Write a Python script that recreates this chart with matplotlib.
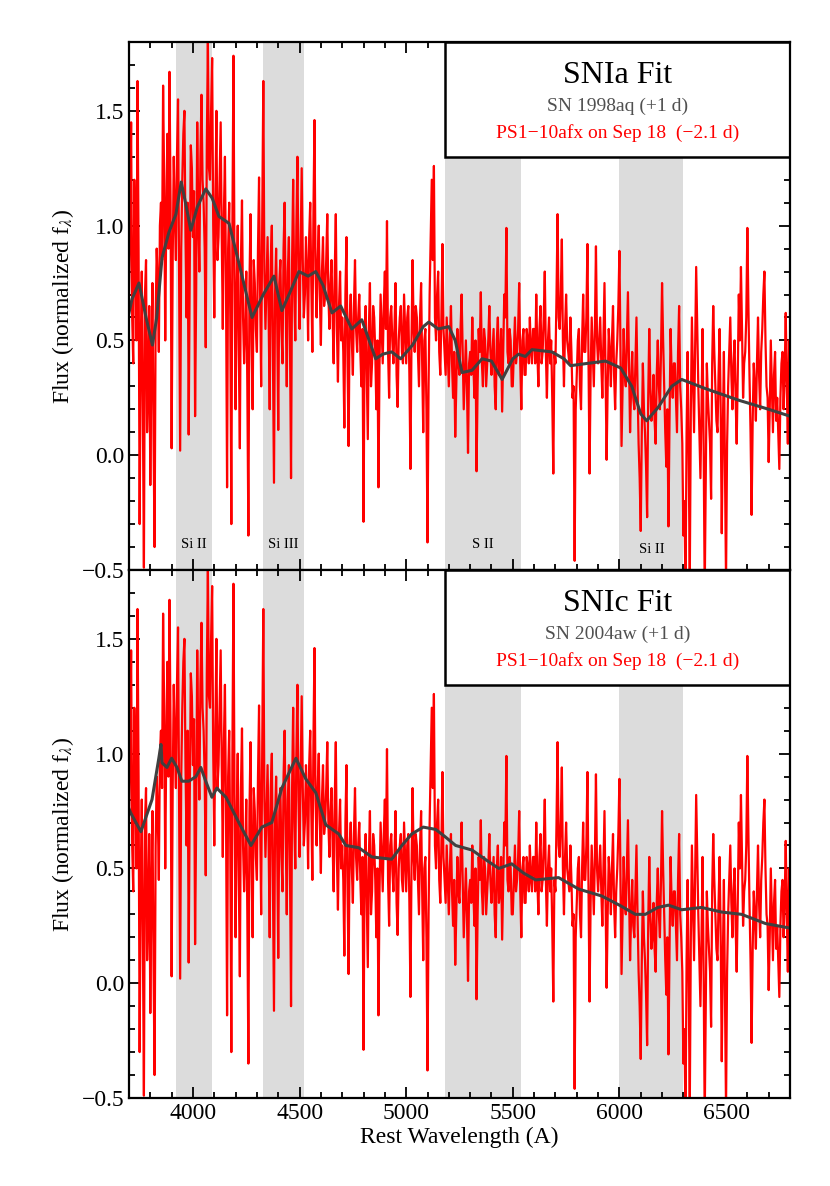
import matplotlib
matplotlib.use('Agg')
import matplotlib.pyplot as plt
from matplotlib.patches import Rectangle
from matplotlib.ticker import MultipleLocator
import numpy as np

plt.rcParams['font.family'] = ['Liberation Serif', 'DejaVu Serif']
plt.rcParams['mathtext.fontset'] = 'stix'

# PS1-10afx spectrum: values at 3700, 3710, ... 6800 A
flux_ps1 = [
    0.70, 1.45, 0.40, 0.95, 1.63, -0.30, 0.80, -0.49, 0.85, 0.30,
    -0.13, 0.75, -0.40, 0.90, 0.45, 1.10, 1.61, 0.50, 1.40, 1.67,
    0.03, 1.30, 0.85, 1.55, 0.02, 1.20, 1.50, 0.60, 0.09, 1.35,
    0.95, 0.17, 1.45, 0.80, 1.57, 1.10, 0.47, 1.80, 1.20, 1.73,
    0.60, 1.50, 0.95, 1.45, 0.55, 1.30, -0.14, 1.10, -0.30, 1.74,
    0.20, 1.00, 0.03, 1.11, 0.40, 0.80, -0.35, 1.05, 0.20, 0.75,
    0.45, 1.21, 0.30, 1.63, 0.55, 0.95, 0.20, 1.00, -0.12, 0.90,
    0.11, 0.85, 0.40, 1.10, 0.30, 0.95, -0.10, 1.20, 0.50, 1.30,
    0.55, 1.25, 0.60, 0.95, 0.50, 1.10, 0.45, 1.46, 0.60, 1.00,
    0.48, 0.95, 0.70, 1.05, 0.55, 0.85, 0.40, 1.05, 0.32, 0.80,
    0.60, 0.12, 0.95, 0.04, 0.70, 0.35, 0.85, 0.45, 0.70, 0.30,
    -0.29, 0.65, 0.07, 0.75, 0.40, 0.60, 0.20, -0.14, 0.70, 0.40,
    0.80, 1.02, 0.25, 0.65, 0.40, 0.75, 0.21, 0.60, 0.45, 0.70,
    0.40, 0.65, -0.06, 0.85, 0.45, 0.60, 0.30, 0.75, 0.10, 0.55,
    -0.38, 0.70, 1.20, 1.26, 0.50, 0.80, 0.35, 0.92, 0.45, 0.60,
    0.30, 0.65, 0.25, 0.08, 0.55, 0.35, 0.70, 0.20, 0.50, 0.01,
    0.45, 0.60, 0.25, -0.07, 0.55, 0.71, 0.30, 0.50, 0.40, 0.65,
    0.35, 0.55, 0.20, 0.60, 0.40, 0.19, 0.70, 0.99, 0.40, 0.50,
    0.30, 0.60, 0.45, 0.75, 0.20, 0.55, 0.35, 0.50, 0.60, 0.40,
    0.55, 0.70, 0.30, 0.65, 0.45, 0.80, 0.25, 0.60, 0.50, -0.08,
    0.40, 1.05, 0.55, 0.94, 0.30, 0.70, 0.45, 0.60, 0.25, -0.46,
    0.35, 0.55, 0.20, 0.70, 0.45, 0.92, -0.08, 0.60, 0.30, 0.91,
    0.40, 0.60, 0.25, 0.75, -0.02, 0.55, 0.30, 0.65, 0.20, 0.50,
    0.89, 0.04, 0.55, 0.30, 0.71, 0.10, 0.45, 0.20, 0.60, 0.05,
    -0.33, 0.40, 0.10, -0.27, 0.55, 0.15, 0.35, 0.05, 0.50, 0.20,
    0.75, 0.30, -0.05, -0.31, 0.55, 0.25, 0.40, 0.10, 0.65, 0.20,
    -0.35, -0.60, 0.45, -0.55, 0.60, 0.10, 0.82, 0.30, -0.10, 0.55,
    -0.60, 0.40, 0.15, -0.19, 0.65, 0.30, 0.10, 0.55, -0.34, 0.45,
    -0.55, 0.30, 0.60, 0.20, 0.50, 0.05, 0.70, 0.82, 0.25, 0.45,
    0.99, 0.35, -0.26, 0.40, 0.15, 0.60, 0.20, 0.55, 0.80, 0.30,
    -0.03, 0.50, 0.10, 0.45, 0.25, -0.06, 0.40, 0.20, 0.62, 0.05,
    0.30,
]
# values at 3705, 3715, ... 6795 A
flux_ps1_mid = [
    1.00, 0.60, 1.20, 0.50, 0.90, 0.45, 0.20, 0.70, 0.10, 0.65,
    0.40, 0.10, 0.60, 0.75, 1.00, 0.85, 1.20, 1.05, 0.90, 1.10,
    0.85, 1.05, 1.30, 0.75, 0.90, 1.40, 0.95, 1.10, 0.80, 1.25,
    1.15, 0.70, 1.05, 1.30, 1.20, 0.90, 1.35, 1.25, 1.50, 1.00,
    1.10, 0.85, 1.20, 0.95, 1.05, 0.75, 0.90, 0.60, 1.00, 0.80,
    0.70, 0.45, 0.85, 0.60, 0.55, 0.30, 0.75, 0.50, 0.85, 0.55,
    0.90, 0.70, 1.05, 0.80, 0.75, 0.60, 0.85, 0.45, 0.70, 0.60,
    0.75, 0.55, 0.90, 0.65, 0.80, 0.50, 0.85, 0.70, 1.00, 0.80,
    0.90, 0.85, 0.70, 0.80, 0.95, 0.75, 1.05, 0.80, 0.85, 0.70,
    0.80, 0.65, 0.85, 0.70, 0.75, 0.60, 0.80, 0.55, 0.65, 0.50,
    0.45, 0.70, 0.40, 0.60, 0.50, 0.65, 0.55, 0.60, 0.45, 0.55,
    0.50, 0.35, 0.55, 0.30, 0.65, 0.45, 0.50, 0.40, 0.55, 0.65,
    0.55, 0.45, 0.60, 0.50, 0.55, 0.35, 0.50, 0.65, 0.40, 0.55,
    0.60, 0.35, 0.50, 0.55, 0.65, 0.45, 0.60, 0.40, 0.50, 0.20,
    0.30, 0.95, 0.85, 0.60, 0.70, 0.45, 0.60, 0.55, 0.35, 0.45,
    0.50, 0.40, 0.45, 0.30, 0.40, 0.55, 0.45, 0.35, 0.30, 0.40,
    0.35, 0.40, 0.50, 0.30, 0.45, 0.40, 0.55, 0.30, 0.50, 0.45,
    0.45, 0.30, 0.50, 0.35, 0.55, 0.45, 0.60, 0.45, 0.55, 0.30,
    0.45, 0.40, 0.55, 0.40, 0.50, 0.35, 0.55, 0.40, 0.45, 0.55,
    0.40, 0.45, 0.55, 0.40, 0.60, 0.45, 0.50, 0.40, 0.25, 0.45,
    0.70, 0.60, 0.70, 0.50, 0.55, 0.50, 0.40, 0.45, 0.30, 0.20,
    0.50, 0.30, 0.50, 0.45, 0.60, 0.40, 0.35, 0.45, 0.55, 0.50,
    0.50, 0.40, 0.50, 0.35, 0.30, 0.45, 0.50, 0.35, 0.40, 0.65,
    0.45, 0.30, 0.35, 0.50, 0.40, 0.30, 0.25, 0.40, 0.30, -0.10,
    0.10, 0.20, -0.05, 0.25, 0.30, 0.20, 0.15, 0.35, 0.30, 0.45,
    0.50, 0.10, 0.20, 0.15, 0.35, 0.40, 0.25, 0.45, 0.30, 0.05,
    -0.20, 0.10, 0.00, 0.20, 0.35, 0.45, 0.55, 0.10, 0.20, 0.05,
    -0.10, 0.25, 0.05, 0.40, 0.45, 0.15, 0.35, 0.20, 0.10, -0.05,
    0.05, 0.45, 0.35, 0.40, 0.25, 0.35, 0.50, 0.55, 0.40, 0.60,
    0.65, 0.10, 0.15, 0.30, 0.40, 0.35, 0.45, 0.70, 0.50, 0.25,
    0.20, 0.30, 0.35, 0.15, 0.10, 0.25, 0.45, 0.35, 0.30, 0.50,
]

# SN 1998aq template (Ia fit)
wave_ia = [3700, 3714, 3747, 3780, 3810, 3830, 3855, 3887, 3920, 3945,
           3965, 3990, 4020, 4060, 4090, 4122, 4169, 4220, 4277, 4330,
           4380, 4417, 4460, 4497, 4540, 4576, 4610, 4652, 4693, 4745,
           4792, 4857, 4890, 4932, 4974, 5030, 5080, 5106, 5150, 5200,
           5230, 5262, 5309, 5356, 5400, 5450, 5500, 5527, 5559, 5590,
           5683, 5740, 5771, 5850, 5935, 6006, 6058, 6100, 6128, 6183,
           6245, 6292, 6404, 6558, 6700, 6800]
flux_ia = [0.62, 0.68, 0.75, 0.60, 0.48, 0.60, 0.86, 0.97, 1.05, 1.19,
           1.10, 0.98, 1.08, 1.16, 1.12, 1.04, 1.01, 0.82, 0.60, 0.70,
           0.78, 0.63, 0.72, 0.80, 0.78, 0.80, 0.74, 0.62, 0.65, 0.55,
           0.59, 0.42, 0.44, 0.45, 0.42, 0.48, 0.56, 0.58, 0.55, 0.56,
           0.50, 0.36, 0.37, 0.42, 0.41, 0.33, 0.42, 0.44, 0.43, 0.46,
           0.45, 0.42, 0.39, 0.40, 0.41, 0.38, 0.30, 0.18, 0.15, 0.21,
           0.30, 0.33, 0.29, 0.24, 0.20, 0.17]

# SN 2004aw template (Ic fit)
wave_ic = [3700, 3709, 3756, 3808, 3840, 3850, 3855, 3878, 3900, 3925,
           3948, 3980, 4014, 4037, 4060, 4089, 4112, 4155, 4215, 4272,
           4323, 4370, 4417, 4483, 4529, 4576, 4623, 4684, 4717, 4778,
           4839, 4932, 4980, 5026, 5080, 5138, 5180, 5232, 5309, 5370,
           5434, 5495, 5550, 5607, 5715, 5809, 5917, 6000, 6075, 6122,
           6180, 6230, 6292, 6385, 6479, 6573, 6685, 6800]
flux_ic = [0.76, 0.74, 0.66, 0.80, 0.98, 1.04, 0.96, 0.94, 0.98, 0.94,
           0.88, 0.88, 0.90, 0.94, 0.88, 0.81, 0.85, 0.81, 0.70, 0.60,
           0.68, 0.70, 0.85, 0.98, 0.89, 0.83, 0.69, 0.65, 0.60, 0.59,
           0.55, 0.54, 0.60, 0.65, 0.68, 0.67, 0.64, 0.60, 0.58, 0.54,
           0.50, 0.52, 0.48, 0.45, 0.46, 0.41, 0.38, 0.34, 0.30, 0.30,
           0.33, 0.34, 0.32, 0.33, 0.31, 0.30, 0.26, 0.24]

band_lo = [3920, 4330, 5180, 6000]
band_hi = [4090, 4520, 5540, 6300]
band_names = ['Si II', 'Si III', 'S II', 'Si II']
band_label_y = [-0.39, -0.39, -0.39, -0.41]

panels = [
    ('SNIa Fit', 'SN 1998aq (+1 d)', wave_ia, flux_ia),
    ('SNIc Fit', 'SN 2004aw (+1 d)', wave_ic, flux_ic),
]

# merge the two sampling grids into one 5 A spectrum
wave_ps1 = np.arange(3700, 6801, 5)
flux = []
for a, b in zip(flux_ps1[:-1], flux_ps1_mid):
    flux += [a, b]
flux.append(flux_ps1[-1])

fig = plt.figure(figsize=(8.3, 11.86), dpi=100)
left, width, h = 0.1554, 0.7964, 0.4452
bottoms = [0.5194, 0.0742]

for i, (title, tname, tw, tf) in enumerate(panels):
    ax = fig.add_axes([left, bottoms[i], width, h])
    for lo, hi in zip(band_lo, band_hi):
        ax.axvspan(lo, hi, color='#dcdcdc', lw=0, zorder=0)
    ax.plot(wave_ps1, flux, color='red', lw=1.6, zorder=2)
    ax.plot(tw, tf, color='#404040', lw=2.2, zorder=3)

    ax.add_patch(Rectangle((5180, 1.30), 1620, 0.5, facecolor='white',
                           edgecolor='black', lw=1.8, zorder=4))
    ax.text(5990, 1.655, title, fontsize=23, ha='center', va='center', zorder=5)
    ax.text(5990, 1.52, tname, fontsize=14, color='#505050',
            ha='center', va='center', zorder=5)
    ax.text(5990, 1.405, 'PS1\u221210afx on Sep 18  (\u22122.1 d)', fontsize=14,
            color='red', ha='center', va='center', zorder=5)

    if i == 0:
        for lo, hi, name, ly in zip(band_lo, band_hi, band_names, band_label_y):
            ax.text((lo + hi) / 2, ly, name, fontsize=10.5, ha='center',
                    va='center', zorder=5)

    ax.set_xlim(3700, 6800)
    ax.set_ylim(-0.5, 1.8)
    ax.xaxis.set_major_locator(MultipleLocator(500))
    ax.xaxis.set_minor_locator(MultipleLocator(100))
    ax.yaxis.set_major_locator(MultipleLocator(0.5))
    ax.yaxis.set_minor_locator(MultipleLocator(0.1))
    ax.tick_params(which='both', direction='in', top=True, right=True,
                   labelsize=17, width=1.3)
    ax.tick_params(which='major', length=8)
    ax.tick_params(which='minor', length=4)
    for s in ax.spines.values():
        s.set_linewidth(1.6)
        s.set_zorder(6)
    ax.set_ylabel(r'Flux (normalized f$_{\lambda}$)', fontsize=17)
    if i == 0:
        ax.tick_params(labelbottom=False)
    else:
        ax.set_xlabel('Rest Wavelength (A)', fontsize=17, labelpad=2)

fig.savefig('out.png', dpi=100)
